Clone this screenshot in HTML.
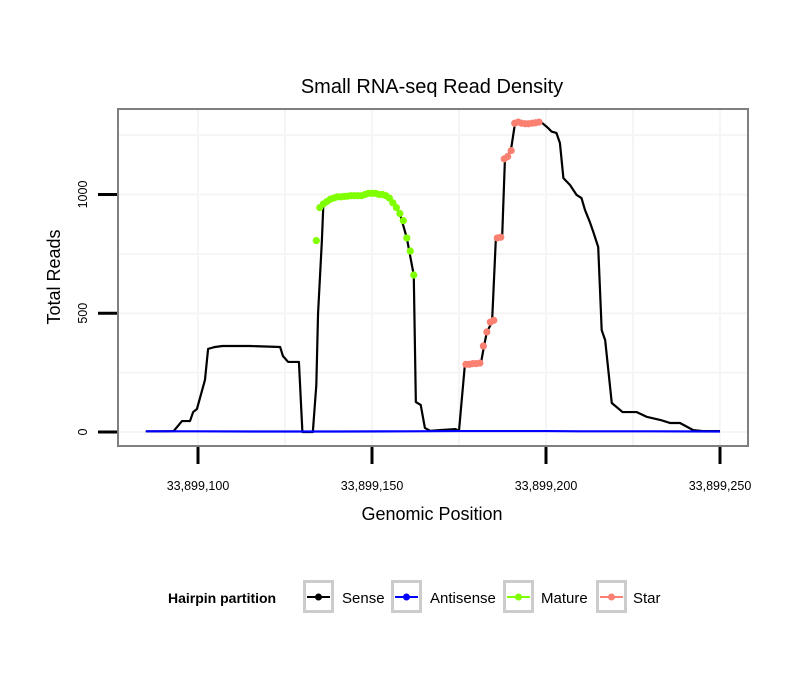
<!DOCTYPE html>
<html><head><meta charset="utf-8"><style>
body{margin:0;background:#fff;}
svg{display:block;font-family:"Liberation Sans",sans-serif;}
</style></head><body>
<svg id="chart" width="810" height="690">
<text x="432" y="93" text-anchor="middle" font-size="20">Small RNA-seq Read Density</text>
<rect x="118" y="109" width="630" height="337" fill="#fff"/>
<g id="grid"></g>
<g id="series"></g>
<rect x="118" y="109" width="630" height="337" fill="none" stroke="#7f7f7f" stroke-width="2"/>
<g id="axes"></g>
<text x="432" y="520" text-anchor="middle" font-size="18">Genomic Position</text>
<text transform="translate(60,277) rotate(-90)" text-anchor="middle" font-size="18">Total Reads</text>
<g>
<text x="168" y="603" font-size="14" font-weight="bold">Hairpin partition</text>
<g id="legend"></g>
</g>
</svg>
<script>
const xTicks=[33899100,33899150,33899200,33899250];
const xTickLabels=["33,899,100","33,899,150","33,899,200","33,899,250"];
const yTicks=[0,500,1000];
const yTickLabels=["0","500","1000"];
const senseX=[85,90,93,95.4,97.7,98.6,99.7,102,102.9,104.9,107,115,123.6,124.4,125.9,129,130,133,134,134.5,135.6,136,140,145,150,155,158,160,162,162.6,164,165.2,166.7,169.5,174,175,176.7,181.3,182.2,183,184.5,185.6,187.4,188.2,189.9,191.1,195,198.6,200.6,201.6,203,204,205,206.9,208.8,210.2,211.2,212.6,213.6,215,216,217,218.9,222,226,228.9,232.8,235.6,238.5,242.3,245,250];
const senseY=[3,3,4,46,46,84,97,219,350,358,362,362,358,320,295,295,0,0,198,500,806,950,990,995,1005,985,920,817,661,126,114,17,5,8,12,5,285,290,362,421,463,817,820,1150,1185,1300,1302,1305,1280,1265,1259,1217,1069,1040,998,985,935,884,842,779,429,387,122,84,84,64,51,38,38,8,4,4];
const antiX=[85,100,120,140,160,175,200,210,230,250];
const antiY=[3,3,2,2,3,4,4,3,3,2];
const matureX=[134,135,136,137,138,139,140,141,142,143,144,145,146,147,148,149,150,151,152,153,154,155,156,157,158,159,160,161,162];
const matureY=[806,945,960,970,980,985,990,990,992,993,995,995,995,995,1000,1005,1005,1005,1000,1000,995,985,965,945,920,890,817,762,661];
const starX=[177,178,179,180,181,182,183,184,185,186,187,188,189,190,191,192,193,194,195,196,197,198];
const starY=[285,285,288,288,290,362,421,463,470,817,820,1150,1160,1185,1300,1305,1300,1298,1298,1300,1302,1305];
const base=33899000;
const sx=v=>198+((v>1e6?v-base:v)-100)*3.48;
const sy=v=>432-v*0.2375;
const NS="http://www.w3.org/2000/svg";
function mk(tag,attrs,parent){const e=document.createElementNS(NS,tag);for(const k in attrs)e.setAttribute(k,attrs[k]);parent.appendChild(e);return e;}
const grid=document.getElementById('grid');
[250,750,1250].concat(yTicks).forEach(v=>{const gl=mk('line',{x1:118,x2:748,y1:sy(v),y2:sy(v),stroke:'#f5f5f5','stroke-width':2},grid);

});
[125,175,225,100,150,200,250].forEach(v=>{const gl=mk('line',{x1:sx(v),x2:sx(v),y1:109,y2:446,stroke:'#f5f5f5','stroke-width':2},grid);

});
const ser=document.getElementById('series');
function line(xs,ys,col,name){const p=mk('polyline',{points:xs.map((x,i)=>sx(x)+','+sy(ys[i])).join(' '),fill:'none',stroke:col,'stroke-width':2.2,'stroke-linejoin':'round'},ser);

}
line(senseX,senseY,'#000','sense-line');
line(antiX,antiY,'#0000ff','antisense-line');
function dots(xs,ys,col,name){xs.forEach((x,i)=>{const c=mk('circle',{cx:sx(x),cy:sy(ys[i]),r:3.6,fill:col},ser);

});}
dots(matureX,matureY,'#7fff00','mature-point');
dots(starX,starY,'#fa8072','star-point');
const ax=document.getElementById('axes');
xTicks.forEach((v,i)=>{const t=mk('line',{x1:sx(v),x2:sx(v),y1:447,y2:464,stroke:'#000','stroke-width':3},ax);


const l=mk('text',{x:sx(v),y:490,'text-anchor':'middle','font-size':12.5},ax);l.textContent=xTickLabels[i];

});
yTicks.forEach((v,i)=>{const t=mk('line',{x1:98,x2:117,y1:sy(v),y2:sy(v),stroke:'#000','stroke-width':3},ax);


const l=mk('text',{transform:`translate(87,${sy(v)}) rotate(-90)`,'text-anchor':'middle','font-size':12.5},ax);l.textContent=yTickLabels[i];

});
const lg=document.getElementById('legend');
[['Sense','#000',303,342],['Antisense','#0000ff',391,430],['Mature','#7fff00',503,541],['Star','#fa8072',596,633]].forEach(([n,c,bx,tx])=>{
const g=mk('g',{},lg);


mk('rect',{x:bx+1.5,y:581.5,width:28,height:30,fill:'#fff',stroke:'#cccccc','stroke-width':3},g);
mk('line',{x1:bx+4,x2:bx+27,y1:597,y2:597,stroke:c,'stroke-width':2},g);
mk('circle',{cx:bx+15.5,cy:597,r:3.5,fill:c},g);
const t=mk('text',{x:tx,y:603,'font-size':15},g);t.textContent=n;});
</script>
</body></html>
